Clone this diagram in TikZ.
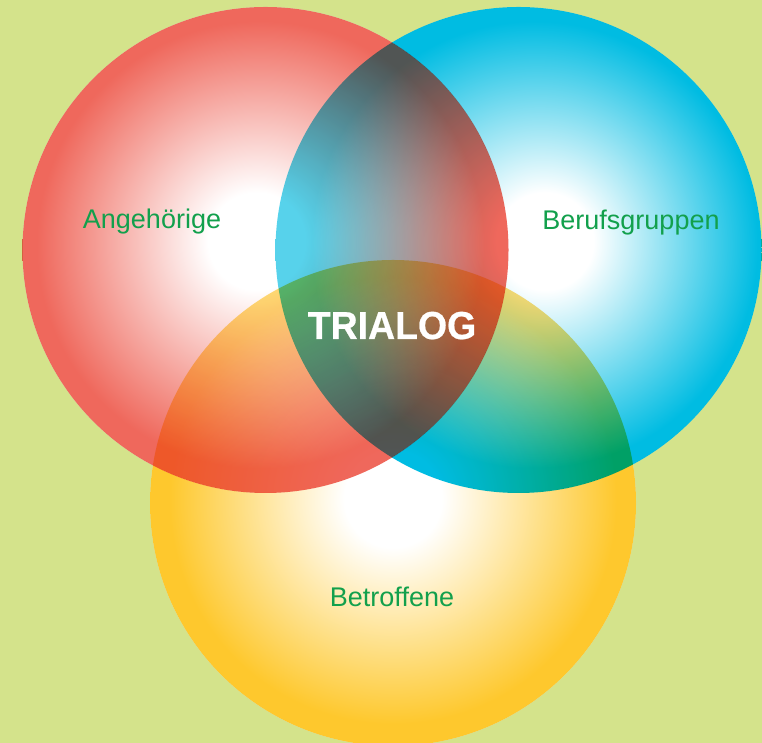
\documentclass[tikz,border=0pt]{standalone}
\usepackage{fontspec}
\setmainfont{Liberation Sans}
\newfontfamily\trifont[FakeBold=0.6]{Liberation Sans Bold}
\definecolor{bg}{RGB}{212,227,139}
\definecolor{cred}{RGB}{239,104,92}
\definecolor{cblue}{RGB}{0,188,226}
\definecolor{cyel}{RGB}{254,200,45}
\definecolor{lbl}{RGB}{18,160,76}
\pgfdeclareradialshading{redsh}{\pgfpoint{-1bp}{1bp}}{color(0bp)=(white); color(5bp)=(white); color(23bp)=(cred); color(25bp)=(cred); color(50bp)=(cred)}
\pgfdeclareradialshading{bluesh}{\pgfpoint{3bp}{1bp}}{color(0bp)=(white); color(5bp)=(white); color(23bp)=(cblue); color(25bp)=(cblue); color(50bp)=(cblue)}
\pgfdeclareradialshading{yelsh}{\pgfpoint{0bp}{0.5bp}}{color(0bp)=(white); color(5bp)=(white); color(23bp)=(cyel); color(25bp)=(cyel); color(50bp)=(cyel)}
\tikzset{
  lab/.style={text=lbl, font=\fontsize{27}{30}\selectfont, anchor=base, inner sep=0pt},
  ring/.style={blend mode=multiply},
  lens/.style={blend mode=multiply, opacity=0.66}
}
\begin{document}
\begin{tikzpicture}[x=1pt,y=1pt]
\useasboundingbox (0,0) rectangle (762,743);
\fill[bg] (0,0) rectangle (762,743);
\clip (0,0) rectangle (762,743);
\coordinate (cr) at (265.5,493);
\coordinate (cb) at (518.5,493);
\coordinate (cy) at (393,240);
\fill[white] (cr) circle (243) (cb) circle (243) (cy) circle (243);
% red
\shade[ring, shading=redsh] (cr) circle (243);
% blue
\begin{scope}[even odd rule]
  \clip (-10,-10) rectangle (772,753) (cr) circle (243);
  \shade[ring, shading=bluesh] (cb) circle (243);
\end{scope}
\begin{scope}
  \clip (cr) circle (243);
  \shade[lens, shading=bluesh] (cb) circle (243);
\end{scope}
% yellow
\begin{scope}[even odd rule]
  \clip (-10,-10) rectangle (772,753) (cr) circle (243);
  \clip (-10,-10) rectangle (772,753) (cb) circle (243);
  \shade[ring, shading=yelsh] (cy) circle (243);
\end{scope}
\begin{scope}
  \clip (cr) circle (243) (cb) circle (243);
  \shade[lens, shading=yelsh] (cy) circle (243);
\end{scope}
\node[lab] (ang) at (152,514) {Angehörige};
\node[lab] (ber) at (631,513) {Berufsgruppen};
\node[lab] (bet) at (392,136) {Betroffene};
\node[text=white, font=\trifont\fontsize{39}{44}\selectfont, anchor=base, inner sep=0pt, xscale=0.96] (tri) at (392,404) {TRIALOG};
\end{tikzpicture}
\end{document}
